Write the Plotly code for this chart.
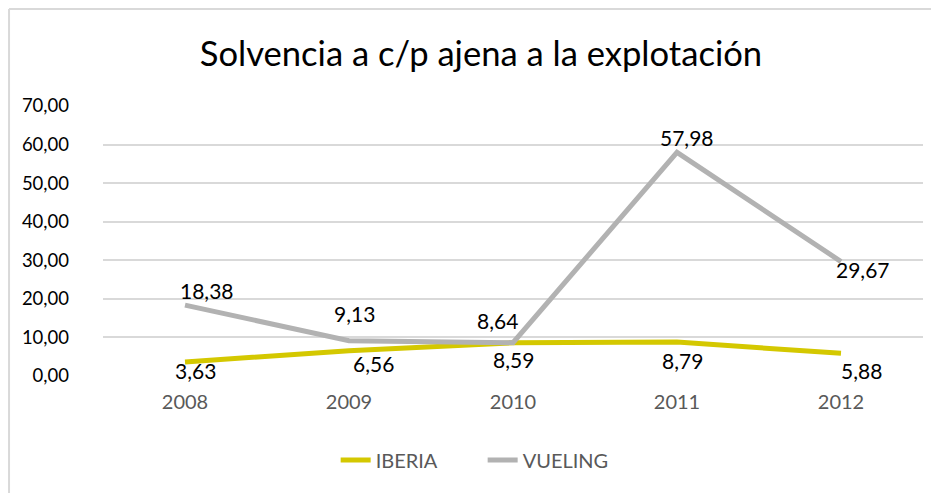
import plotly.graph_objects as go

years = ['2008', '2009', '2010', '2011', '2012']
iberia = [3.63, 6.56, 8.59, 8.79, 5.88]
vueling = [18.38, 9.13, 8.64, 57.98, 29.67]
y_ticks = [0, 10, 20, 30, 40, 50, 60, 70]

FONT = 'Lato'

# desplazamiento (px) de las etiquetas de datos respecto del punto
iberia_off = [(10, -8), (24, -13), (0, -17), (5, -18), (20, -17)]
vueling_off = [(22, 15), (5, 27), (-16, 22), (10, 15), (22, -8)]

fig = go.Figure()
fig.add_trace(go.Scatter(
    x=years, y=iberia, name='IBERIA', mode='lines',
    line=dict(color='#D4C800', width=5),
))
fig.add_trace(go.Scatter(
    x=years, y=vueling, name='VUELING', mode='lines',
    line=dict(color='#B2B2B2', width=5),
))

# etiquetas de datos: en eje categórico la x va por índice de categoría
for serie, off in [(iberia, iberia_off), (vueling, vueling_off)]:
    for i, (val, (dx, dy)) in enumerate(zip(serie, off)):
        fig.add_annotation(
            x=i, y=val, text=f'{val:.2f}'.replace('.', ','),
            showarrow=False, xshift=dx, yshift=dy,
            xanchor='center', yanchor='middle',
            font=dict(family=FONT, size=21, color='#000000'),
        )

# borde del gráfico (recortado a la derecha y abajo)
fig.add_shape(type='line', xref='paper', yref='paper',
              x0=-0.1146, x1=-0.1146, y0=1.3593, y1=-0.5,
              line=dict(color='#D9D9D9', width=2))
fig.add_shape(type='line', xref='paper', yref='paper',
              x0=-0.1146, x1=1.1, y0=1.3593, y1=1.3593,
              line=dict(color='#D9D9D9', width=2))

fig.update_layout(
    width=931, height=485,
    margin=dict(l=95, r=16, t=98, b=117),
    paper_bgcolor='white', plot_bgcolor='white',
    separators=',.',
    font=dict(family=FONT),
    title=dict(text='Solvencia a c/p ajena a la explotación',
               x=0.508, xref='container', xanchor='center',
               y=0.905, yref='container', yanchor='middle',
               font=dict(family=FONT, size=34.6, color='#000000')),
    showlegend=True,
    legend=dict(orientation='h', x=0.463, xanchor='center', y=-0.311, yanchor='middle',
                font=dict(family=FONT, size=20, color='#595959'),
                entrywidth=102, entrywidthmode='pixels', traceorder='normal'),
    xaxis=dict(type='category', showgrid=False, showline=False, zeroline=False,
               ticks='', tickfont=dict(family=FONT, size=20, color='#595959'),
               ticklabelstandoff=12, range=[-0.5, 4.5]),
    yaxis=dict(range=[0, 70], tickvals=y_ticks, tickformat='.2f',
               showgrid=True, gridcolor='#D9D9D9', gridwidth=1.5,
               zeroline=False, showline=False, ticks='',
               tickfont=dict(family=FONT, size=18.5, color='#000000'),
               ticklabelstandoff=33),
)

fig.write_html('out.html')
